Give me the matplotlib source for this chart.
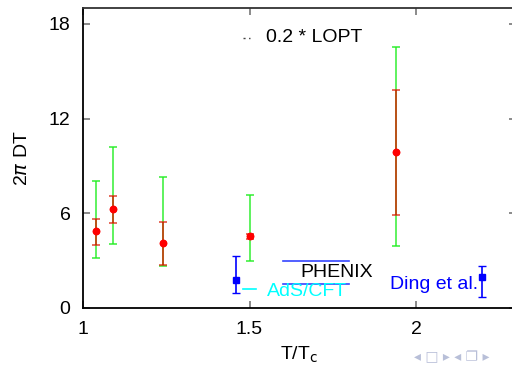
import matplotlib
matplotlib.use("Agg")
import matplotlib.pyplot as plt

plt.rcParams['font.family'] = ['Liberation Sans', 'DejaVu Sans']

# Lattice data (red points, statistical + systematic error bars)
lat_x = [1.04, 1.09, 1.24, 1.50, 1.94]
lat_y = [4.86, 6.25, 4.10, 4.54, 9.87]
red_lo = [4.01, 5.39, 2.72, 4.38, 5.89]
red_hi = [5.66, 7.12, 5.43, 4.70, 13.8]
green_lo = [3.15, 4.06, 2.68, 2.98, 3.93]
green_hi = [8.07, 10.18, 8.28, 7.14, 16.5]

# Ding et al. (blue squares)
ding_x = [1.458, 2.199]
ding_y = [1.77, 1.98]
ding_lo = [0.97, 0.72]
ding_hi = [3.30, 2.68]

# PHENIX band
phenix_x = [1.60, 1.80]
phenix_lo = 1.50
phenix_hi = 2.96

# AdS/CFT
ads_x = [1.48, 1.518]
ads_y = 1.22

xticks = [1, 1.5, 2]
yticks = [0, 6, 12, 18]

FS = 14

fig = plt.figure(figsize=(5.12, 3.66), dpi=100)
ax = fig.add_axes([83/512, (366-308)/366, 433/512, 300/366])

# green (systematic) error bars
ax.errorbar(lat_x, lat_y,
            yerr=[[y - l for y, l in zip(lat_y, green_lo)],
                  [h - y for y, h in zip(lat_y, green_hi)]],
            fmt='none', ecolor='#22ee22', elinewidth=1.2, capsize=3, capthick=1.2, alpha=0.85)
# red (statistical) error bars
ax.errorbar(lat_x, lat_y,
            yerr=[[y - l for y, l in zip(lat_y, red_lo)],
                  [h - y for y, h in zip(lat_y, red_hi)]],
            fmt='o', color='red', ms=4.5, ecolor=(0.85, 0.1, 0.0), elinewidth=1.4,
            capsize=3, capthick=1.2, alpha=0.75, zorder=3)
ax.plot(lat_x, lat_y, 'o', color='red', ms=4.5, zorder=4)

# Ding et al.
ax.errorbar(ding_x, ding_y,
            yerr=[[y - l for y, l in zip(ding_y, ding_lo)],
                  [h - y for y, h in zip(ding_y, ding_hi)]],
            fmt='s', color='blue', ms=5, ecolor='blue', elinewidth=1.2,
            capsize=3, capthick=1.0, zorder=3)

# PHENIX lines
ax.plot(phenix_x, [phenix_hi, phenix_hi], color='#3344ff', lw=1.2)
ax.plot(phenix_x, [phenix_lo, phenix_lo], color='#3344ff', lw=1.2)
ax.text(1.652, 2.22, 'PHENIX', color='black', fontsize=FS, va='center', ha='left')

# AdS/CFT
ax.plot(ads_x, [ads_y, ads_y], color='cyan', lw=1.2)
ax.text(1.551, 1.05, 'AdS/CFT', color='cyan', fontsize=FS, va='center', ha='left')

# Ding et al. label
ax.text(1.922, 1.5, 'Ding et al.', color='blue', fontsize=FS, va='center', ha='left')

# legend-like entry for 0.2 * LOPT
ax.plot([1.48, 1.50], [17.1, 17.1], color='#444444', lw=1.0, ls=(0, (1.5, 2.5)))
ax.text(1.55, 17.1, '0.2 * LOPT', color='black', fontsize=FS, va='center', ha='left')

ax.set_xlim(1, 2.3)
ax.set_ylim(0, 19)
ax.set_xticks(xticks)
ax.set_xticklabels(['1', '1.5', '2'])
ax.set_yticks(yticks)
ax.tick_params(direction='in', length=5, width=1.2, color='#777777', labelsize=FS,
               top=True, right=True, pad=9)
for s in ['left', 'bottom']:
    ax.spines[s].set_linewidth(1.3)
    ax.spines[s].set_color('black')
ax.spines['top'].set_color('#333333')
ax.spines['top'].set_linewidth(1.3)
ax.spines['right'].set_visible(False)

ax.set_ylabel(r'2$\pi$ DT', fontsize=FS, labelpad=13)
ax.set_xlabel(r'T/T$_\mathrm{c}$', fontsize=FS, labelpad=5)

fig.text(414/512, 0.006, '◂ □ ▸ ◂ ❐ ▸', color='#b8bfd8', fontsize=10, ha='left', va='bottom',
         family=['DejaVu Sans'])

fig.savefig('out.png', dpi=100)
